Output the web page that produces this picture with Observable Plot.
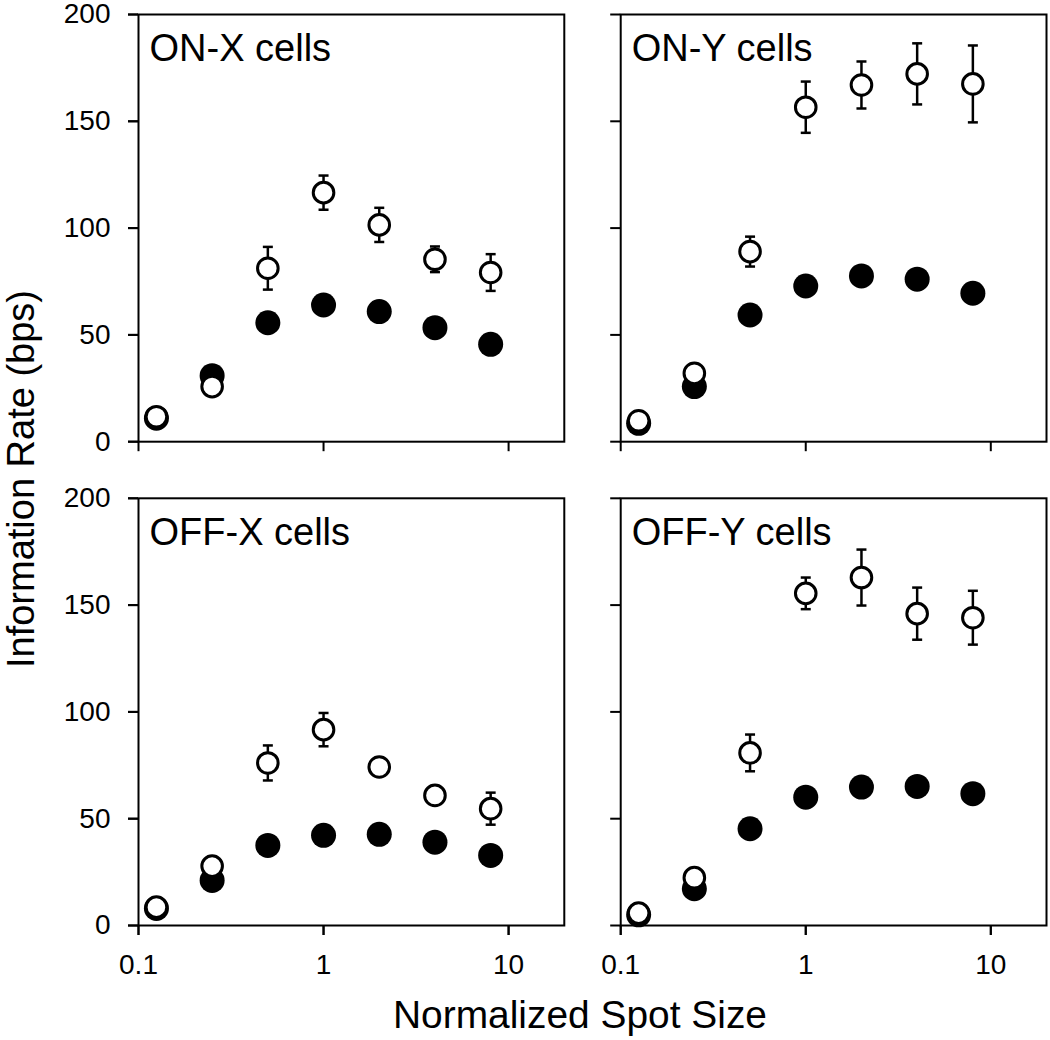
<!DOCTYPE html>
<html>
<head>
<meta charset="utf-8">
<script src="https://cdn.jsdelivr.net/npm/d3@7"></script>
<script src="https://cdn.jsdelivr.net/npm/@observablehq/plot@0.6"></script>
<style>
  html, body { margin: 0; padding: 0; background: white; }
  #chart { width: 1050px; height: 1040px; }
</style>
</head>
<body>
<div id="chart"></div>
<script>
// Spot sizes (normalized)
const sizes = [0.125, 0.25, 0.5, 1, 2, 4, 8];

// ON-X cells
const onXOpen   = [11.7, 25.8, 81.2, 116.6, 101.5, 85.4, 79.2];
const onXErr    = [1.5, 2, 10, 8, 8, 6, 8.6];
const onXFilled = [11, 30.9, 55.7, 64, 60.9, 53.4, 45.6];

// ON-Y cells
const onYOpen   = [9.8, 32, 89, 156.6, 167, 172.2, 167.5];
const onYErr    = [1.5, 2, 7, 12, 11, 14.3, 18];
const onYFilled = [8.6, 25.8, 59.3, 72.9, 77.6, 76.1, 69.5];

// OFF-X cells
const offXOpen   = [8.6, 27.8, 76.1, 91.7, 74.2, 60.9, 54.7];
const offXErr    = [1.5, 2, 8.2, 7.8, 3, 3, 7.5];
const offXFilled = [8, 21.1, 37.5, 42.2, 42.7, 39, 32.8];

// OFF-Y cells
const offYOpen   = [5.8, 22.4, 80.8, 155.5, 162.9, 146, 144.1];
const offYErr    = [1.5, 2, 8.6, 7.4, 13.1, 12.2, 12.6];
const offYFilled = [5, 17.2, 45.3, 60.1, 64.8, 65.1, 61.7];

// Panel labels and tick labels
const panelLabels = ["ON-X cells", "ON-Y cells", "OFF-X cells", "OFF-Y cells"];
const panelRows = ["ON", "ON", "OFF", "OFF"];
const panelCols = ["X", "Y", "X", "Y"];
const xTicks = [0.1, 1, 10];
const yTicks = [0, 50, 100, 150, 200];
const xTitle = "Normalized Spot Size";
const yTitle = "Information Rate (bps)";

// Build table
const series = [
  [onXOpen, onXErr, onXFilled],
  [onYOpen, onYErr, onYFilled],
  [offXOpen, offXErr, offXFilled],
  [offYOpen, offYErr, offYFilled]
];
const rows = [];
series.forEach(([open, err, filled], p) => {
  sizes.forEach((s, i) => {
    rows.push({row: panelRows[p], col: panelCols[p], size: s, open: open[i], err: err[i], filled: filled[i]});
  });
});
const labels = panelLabels.map((t, p) => ({row: panelRows[p], col: panelCols[p], label: t}));

// Horizontal line symbol for error-bar caps
const capSymbol = {
  draw(context, size) {
    const w = Math.sqrt(size / Math.PI);
    context.moveTo(-w, 0);
    context.lineTo(w, 0);
  }
};

const font = "'Liberation Sans', Arial, Helvetica, sans-serif";
const fc = {fx: "col", fy: "row"};

const svg = Plot.plot({
  width: 1050,
  height: 1040,
  marginLeft: 138,
  marginRight: 4,
  marginTop: 14,
  marginBottom: 115,
  style: {background: "white", color: "black", fontFamily: font, overflow: "visible"},
  fx: {domain: ["X", "Y"], paddingInner: 0.117, paddingOuter: 0, round: false, axis: null},
  fy: {domain: ["ON", "OFF"], paddingInner: 0.117, paddingOuter: 0, round: false, axis: null},
  x: {type: "log", domain: [0.1, 20]},
  y: {domain: [0, 200]},
  marks: [
    Plot.frame({stroke: "black", strokeWidth: 2}),
    // tick marks on every panel
    Plot.axisX({ticks: xTicks, tickSize: 10, strokeWidth: 2, tickFormat: () => "", label: null, facetAnchor: null}),
    Plot.axisY({ticks: yTicks, tickSize: 10, strokeWidth: 2, tickFormat: () => "", label: null, facetAnchor: null}),
    // labelled axes on outer panels
    Plot.axisX({ticks: xTicks, tickSize: 10, strokeWidth: 2, tickPadding: 19, fontSize: 28, tickFormat: d => String(d), label: null}),
    Plot.axisY({ticks: yTicks, tickSize: 10, strokeWidth: 2, tickPadding: 18, fontSize: 28, tickFormat: d => String(d), label: null}),
    // filled circles
    Plot.dot(rows, {...fc, x: "size", y: "filled", r: 12.5, fill: "black", stroke: "none"}),
    // error bars for open circles
    Plot.ruleX(rows, {...fc, x: "size", y1: d => d.open - d.err, y2: d => d.open + d.err, stroke: "black", strokeWidth: 2.5}),
    Plot.dot(rows, {...fc, x: "size", y: d => d.open + d.err, symbol: capSymbol, r: 5, fill: "none", stroke: "black", strokeWidth: 2.5}),
    Plot.dot(rows, {...fc, x: "size", y: d => d.open - d.err, symbol: capSymbol, r: 5, fill: "none", stroke: "black", strokeWidth: 2.5}),
    // open circles
    Plot.dot(rows, {...fc, x: "size", y: "open", r: 10.3, fill: "white", stroke: "black", strokeWidth: 3}),
    // panel labels
    Plot.text(labels, {...fc, text: "label", frameAnchor: "top-left", textAnchor: "start", lineAnchor: "top", dx: 11, dy: 20, fontSize: 38, fill: "black"})
  ]
});

// Axis titles
const s = d3.select(svg);
s.append("text")
  .attr("transform", "translate(34,479) rotate(-90)")
  .attr("text-anchor", "middle")
  .attr("font-family", font)
  .attr("font-size", 38)
  .attr("fill", "black")
  .attr("textLength", 378)
  .attr("lengthAdjust", "spacingAndGlyphs")
  .text(yTitle);
s.append("text")
  .attr("x", 580)
  .attr("y", 1028)
  .attr("text-anchor", "middle")
  .attr("font-family", font)
  .attr("font-size", 38)
  .attr("fill", "black")
  .attr("textLength", 374)
  .attr("lengthAdjust", "spacingAndGlyphs")
  .text(xTitle);

document.getElementById("chart").appendChild(svg);
</script>
</body>
</html>
